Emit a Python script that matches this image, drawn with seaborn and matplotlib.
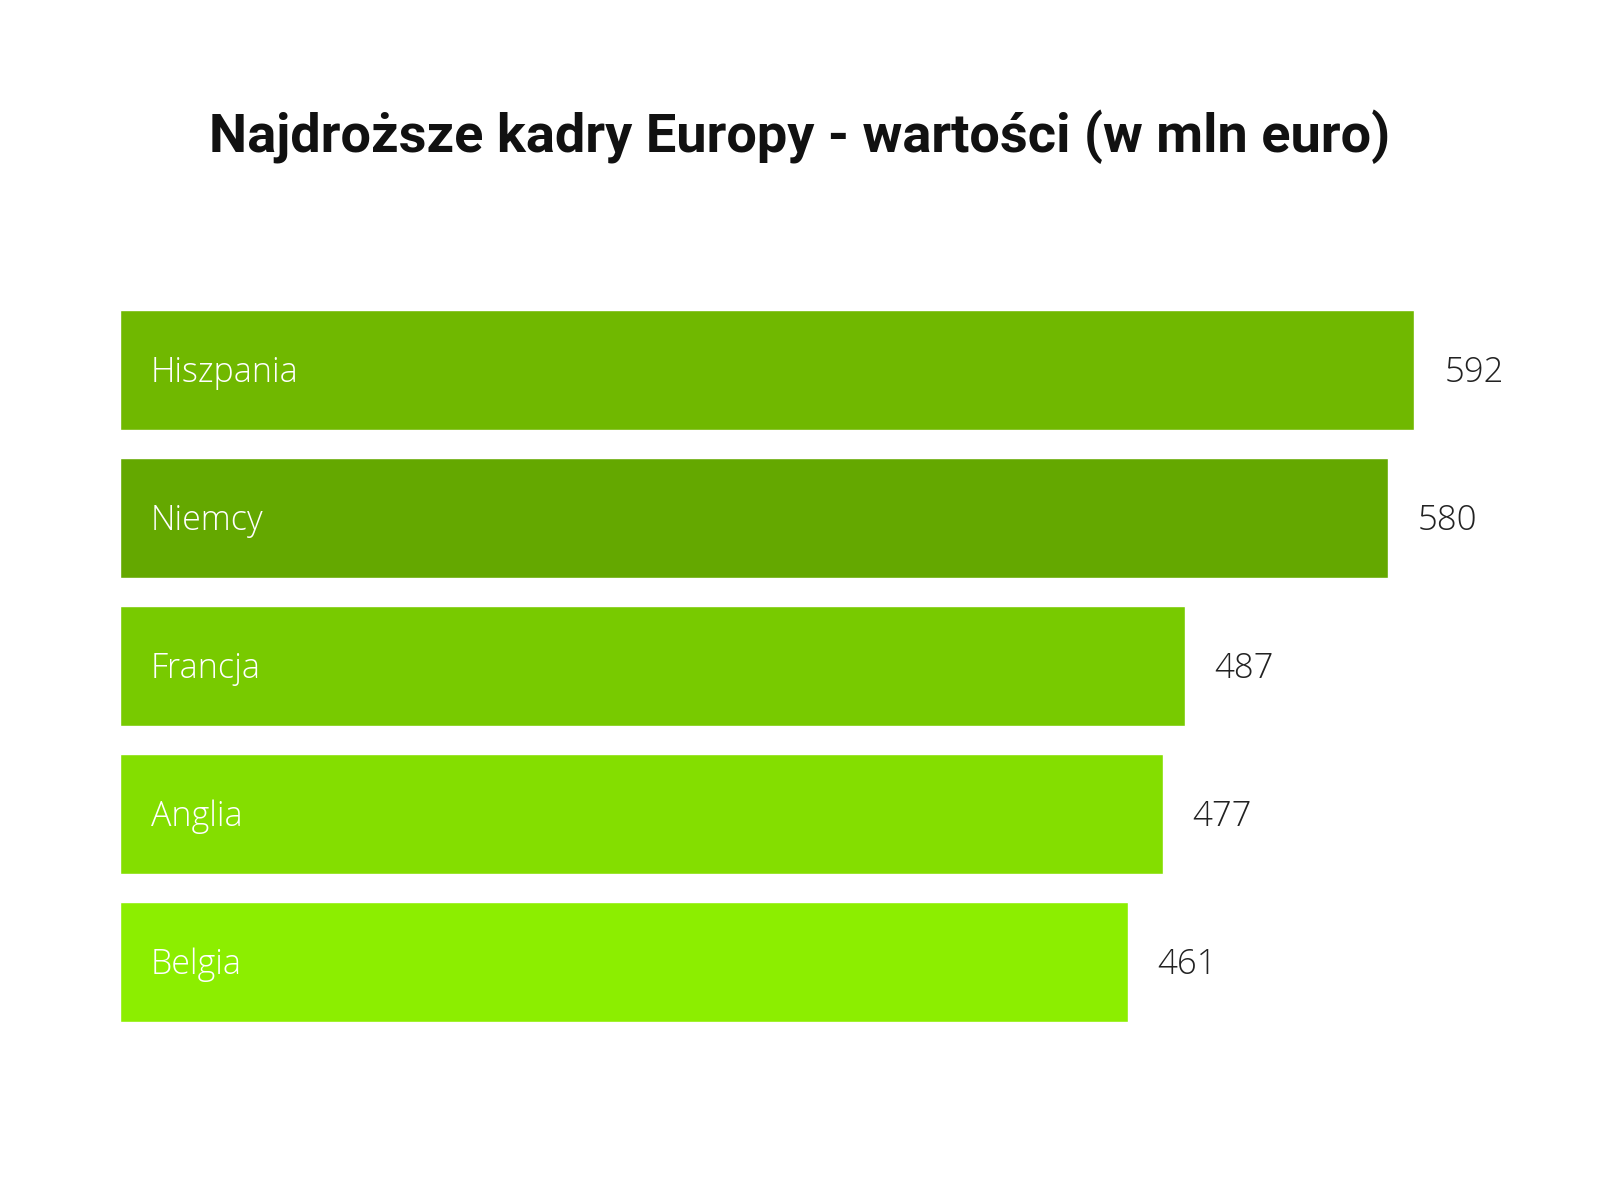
import pandas as pd
import matplotlib.pyplot as plt
import seaborn as sns

# ------------------ DATA ------------------
countries = ["Hiszpania", "Niemcy", "Francja", "Anglia", "Belgia"]
values = [592, 580, 487, 477, 461]
bar_colors = ["#70b800", "#64a800", "#78ca00", "#84de00", "#8cee00"]
title = "Najdroższe kadry Europy - wartości (w mln euro)"

df = pd.DataFrame({"country": countries, "value": values})

# ------------------ PLOT ------------------
sns.set_style("white")
plt.rcParams["font.family"] = ["Open Sans", "DejaVu Sans"]

fig = plt.figure(figsize=(16, 12), dpi=100)
ax = fig.add_axes([120 / 1600, 1 - 1036 / 1200, 1 - 120 / 1600, 740 / 1200])

sns.barplot(data=df, x="value", y="country", hue="country",
            palette=dict(zip(countries, bar_colors)), orient="h",
            width=0.81, saturation=1, legend=False, ax=ax)

ax.set_xlim(0, 677)
ax.set_ylim(4.5, -0.5)
ax.set_xlabel("")
ax.set_ylabel("")
ax.set_xticks([])
ax.set_yticks([])
sns.despine(ax=ax, left=True, bottom=True)

# labels inside bars and values after bars
for i, (name, val) in enumerate(zip(countries, values)):
    ax.text(14, i + 0.02, name, color="white", fontsize=24.5, fontweight="light",
            va="center", ha="left")
    ax.text(val + 13.7, i + 0.02, str(val), color="#222222", fontsize=25,
            fontweight="light", va="center", ha="left")

# title, shrunk to the reference width (no condensed font available)
t = fig.text(0.5, 1 - 137 / 1200, title, ha="center", va="center",
             fontsize=40, fontweight="bold", color="#111111",
             family=["Roboto", "DejaVu Sans"])
fig.canvas.draw()
w = t.get_window_extent().width
t.set_fontsize(40 * 1180 / w)

fig.savefig("out.png", dpi=100, facecolor="white")
plt.close(fig)
